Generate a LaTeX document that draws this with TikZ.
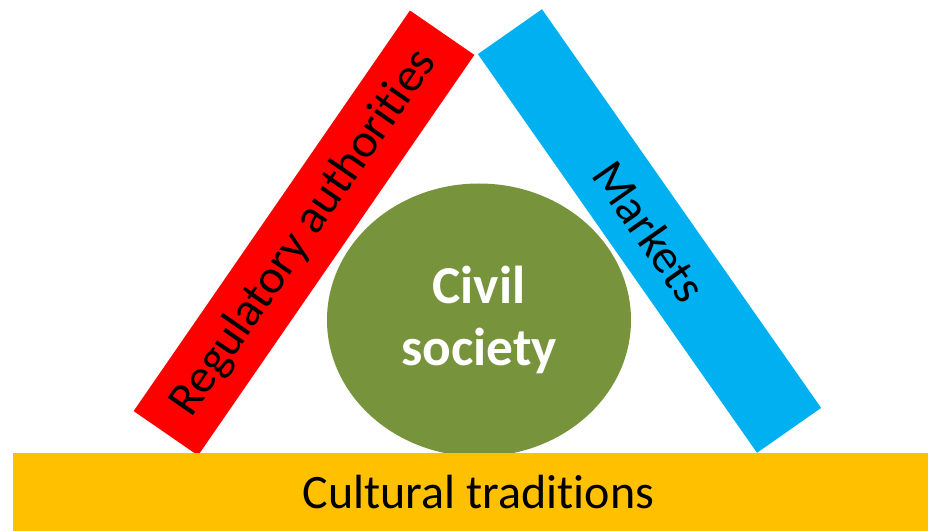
\documentclass[tikz,border=0pt]{standalone}
\usepackage{fontspec}
\setmainfont{Carlito}[Ligatures=NoCommon]
\usetikzlibrary{shapes.geometric}

\definecolor{barred}{HTML}{FF0000}
\definecolor{barblue}{HTML}{00B0F0}
\definecolor{baseyellow}{HTML}{FFC000}
\definecolor{civilgreen}{HTML}{77933C}

\begin{document}
\begin{tikzpicture}[x=0.75pt, y=-0.75pt,
    bar/.style={inner sep=0pt, minimum width=365pt, minimum height=58.7pt,
        font=\fontsize{36}{44}\selectfont},
]
    \clip (0, 0) rectangle (928, 531);

    \node [bar, fill=barred, rotate=55.4] (regulators) at (304, 233) {Regulatory authorities};
    \node [bar, fill=barblue, rotate=-55] (markets) at (649.5, 231) {Markets};

    \node [ellipse, fill=civilgreen, inner sep=0pt, minimum width=228pt, minimum height=204.75pt,
        text=white, align=center, font=\fontsize{40}{47}\selectfont\bfseries] (civil) at (479, 320)
        {Civil\\society};

    \node [bar, fill=baseyellow, minimum width=698.25pt, minimum height=58.5pt]
        (culture) at (478.5, 492) {Cultural traditions};
\end{tikzpicture}
\end{document}
